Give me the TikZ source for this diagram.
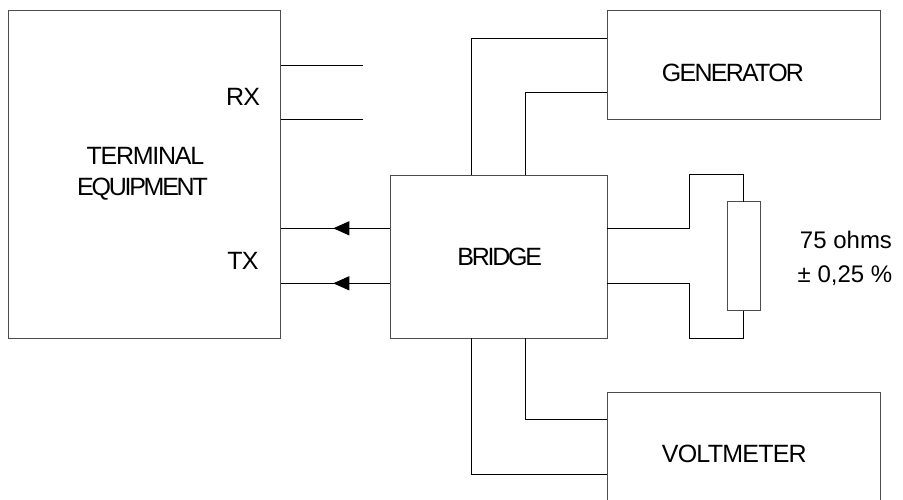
\documentclass[tikz,border=0pt]{standalone}
\usepackage{fontspec}
\setmainfont{Liberation Sans}
\usetikzlibrary{arrows.meta,decorations.markings}
\tikzset{
  box/.style={draw=black!70, line width=1pt, rectangle, inner sep=0pt, outer sep=0pt},
  wire/.style={draw=black, line width=1pt},
  lbl/.style={inner sep=0pt, anchor=base, font=\fontsize{25}{30}\selectfont\addfontfeature{LetterSpace=#1}},
  lbl/.default=-6,
  val/.style={inner sep=0pt, anchor=base, font=\fontsize{24}{30}\selectfont},
  midarrow/.style={postaction={decorate}, decoration={markings,
      mark=at position 0.519 with {\arrow{Triangle[length=16pt,width=14pt]}}}}
}
\begin{document}
\begin{tikzpicture}[x=1pt,y=-1pt]
\useasboundingbox (0,0) rectangle (903,499);
\clip (0,0) rectangle (903,499);
\fill[white] (0,0) rectangle (903,499);
% boxes
\node[box, minimum width=272.7pt, minimum height=327.3pt] (term) at (144.35,174.35) {};
\node[box, minimum width=273.4pt, minimum height=108.3pt] (gen) at (744,64.85) {};
\node[box, minimum width=217.3pt, minimum height=163.3pt] (bridge) at (498.65,256.65) {};
\node[box, minimum width=273.4pt, minimum height=137.5pt] (volt) at (744,461.25) {};
\node[box, minimum width=33pt, minimum height=109pt] (res) at (743.8,256.2) {};
% labels
\node[lbl=-3] (rxl) at (243,105) {RX};
\node[lbl=-3] (txl) at (243,269.3) {TX};
\node[lbl=-5] (terml1) at (145.5,164.3) {TERMINAL};
\node[lbl=-9] (terml2) at (142.5,195) {EQUIPMENT};
\node[lbl=-7] (genl) at (733,81) {GENERATOR};
\node[lbl=-9] (bridgel) at (499.7,265) {BRIDGE};
\node[lbl=-3] (voltl) at (734.3,462.7) {VOLTMETER};
\node[val] (resl1) at (846,248.3) {75 ohms};
\node[val] (resl2) at (845,282.3) {± 0,25 \%};
% helper coordinates
\coordinate (rx1) at (362.7,65.7);
\coordinate (rx2) at (362.7,119);
\coordinate (ya) at (0,228.3);
\coordinate (yb) at (0,283.3);
\coordinate (xa) at (471.7,0);
\coordinate (xb) at (525.7,0);
\coordinate (g1) at (0,38.3);
\coordinate (g2) at (0,92.3);
\coordinate (v1) at (0,474);
\coordinate (v2) at (0,419.3);
\coordinate (rtl) at (689.3,174.3);
\coordinate (rbl) at (689.3,338.3);
% RX lines
\draw[wire] (rx1 -| term.east) -- (rx1);
\draw[wire] (rx2 -| term.east) -- (rx2);
% TX lines with arrows
\draw[wire, midarrow] (bridge.west |- ya) -- (term.east |- ya);
\draw[wire, midarrow] (bridge.west |- yb) -- (term.east |- yb);
% bridge to generator
\draw[wire] (bridge.north -| xa) |- (gen.west |- g1);
\draw[wire] (bridge.north -| xb) |- (gen.west |- g2);
% bridge to voltmeter
\draw[wire] (bridge.south -| xa) |- (volt.west |- v1);
\draw[wire] (bridge.south -| xb) |- (volt.west |- v2);
% bridge to resistor
\draw[wire] (bridge.east |- ya) -| (rtl) -| (res.north);
\draw[wire] (bridge.east |- yb) -| (rbl) -| (res.south);
\end{tikzpicture}
\end{document}
